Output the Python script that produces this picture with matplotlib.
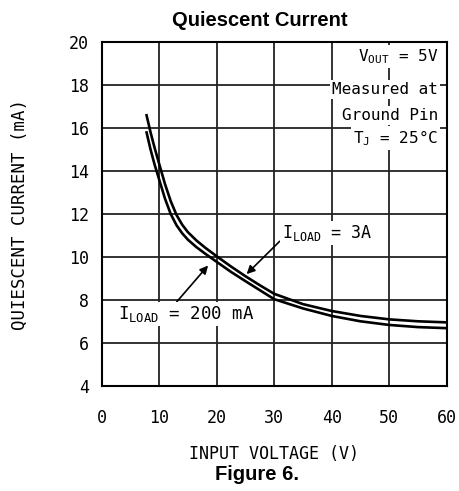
import matplotlib
matplotlib.use("Agg")
import matplotlib.pyplot as plt

# data
vin_200ma = [7.8, 8.5, 9.2, 10, 11, 12, 13, 14, 15, 16.5, 18, 20, 22.5, 25, 27.5, 30, 35, 40, 45, 50, 55, 60]
iq_200ma = [15.8, 15.0, 14.3, 13.6, 12.72, 12.0, 11.48, 11.1, 10.8, 10.45, 10.15, 9.77, 9.3, 8.87, 8.45, 8.03, 7.6, 7.25, 7.0, 6.83, 6.73, 6.68]

vin_3a = [7.8, 8.5, 9.2, 10, 11, 12, 13, 14, 15, 16.5, 18, 20, 22.5, 25, 27.5, 30, 35, 40, 45, 50, 55, 60]
iq_3a = [16.6, 15.8, 15.08, 14.33, 13.4, 12.6, 11.96, 11.5, 11.15, 10.76, 10.43, 10.03, 9.55, 9.1, 8.68, 8.28, 7.8, 7.48, 7.25, 7.09, 7.0, 6.95]

x_ticks = [0, 10, 20, 30, 40, 50, 60]
y_ticks = [4, 6, 8, 10, 12, 14, 16, 18, 20]

mono = "DejaVu Sans Mono"
plt.rcParams["font.family"] = mono
plt.rcParams["mathtext.fontset"] = "custom"
plt.rcParams["mathtext.rm"] = mono
plt.rcParams["mathtext.it"] = mono

fig = plt.figure(figsize=(4.59, 4.91), dpi=100)
ax = fig.add_axes([0.2216, 0.2145, 0.7516, 0.6993])

ax.plot(vin_200ma, iq_200ma, color="black", lw=1.9, zorder=3, solid_joinstyle="round")
ax.plot(vin_3a, iq_3a, color="black", lw=1.9, zorder=3, solid_joinstyle="round")

ax.set_xlim(0, 60)
ax.set_ylim(4, 20)
ax.set_xticks(x_ticks)
ax.set_yticks(y_ticks)
ax.grid(True, color="#222222", lw=1.3, zorder=1)
ax.set_axisbelow(True)
ax.tick_params(axis="both", length=0, labelsize=12)
ax.tick_params(axis="x", pad=17)
ax.tick_params(axis="y", pad=9)
for s in ax.spines.values():
    s.set_linewidth(1.5)

ax.set_xlabel("INPUT VOLTAGE (V)", fontsize=12, labelpad=12.5)
ax.set_ylabel("QUIESCENT CURRENT (mA)", fontsize=12.5, labelpad=29)

box = dict(facecolor="white", edgecolor="none", pad=1.5)
cond = [r"V$_{\mathregular{OUT}}$ = 5V", "Measured at", "Ground Pin", r"T$_{\mathregular{J}}$ = 25°C"]
cond_y = [19.35, 17.8, 16.6, 15.55]
for t, yy in zip(cond, cond_y):
    ax.text(58.5, yy, t, ha="right", va="center", fontsize=11.5, bbox=box, zorder=4)

ax.annotate(r"I$_{\mathregular{LOAD}}$ = 3A", xy=(25.2, 9.2), xytext=(31.3, 11.1),
            fontsize=12, va="center", ha="left", bbox=box, zorder=4,
            arrowprops=dict(arrowstyle="-|>", color="black", lw=1.2, shrinkA=0, shrinkB=0,
                            mutation_scale=12, relpos=(0, 0.2)))
ax.annotate(r"I$_{\mathregular{LOAD}}$ = 200 mA", xy=(18.5, 9.6), xytext=(2.8, 7.35),
            fontsize=12.5, va="center", ha="left", bbox=box, zorder=4,
            arrowprops=dict(arrowstyle="-|>", color="black", lw=1.2, shrinkA=0, shrinkB=0,
                            mutation_scale=12, relpos=(0.42, 1.0)))

fig.text(260 / 459, 1 - 21 / 491, "Quiescent Current", family="Liberation Sans",
         weight="bold", fontsize=14.5, ha="center", va="center")
fig.text(257 / 459, 1 - 474 / 491, "Figure 6.", family="Liberation Sans",
         weight="bold", fontsize=14.5, ha="center", va="center")

fig.savefig("out.png", dpi=100)
